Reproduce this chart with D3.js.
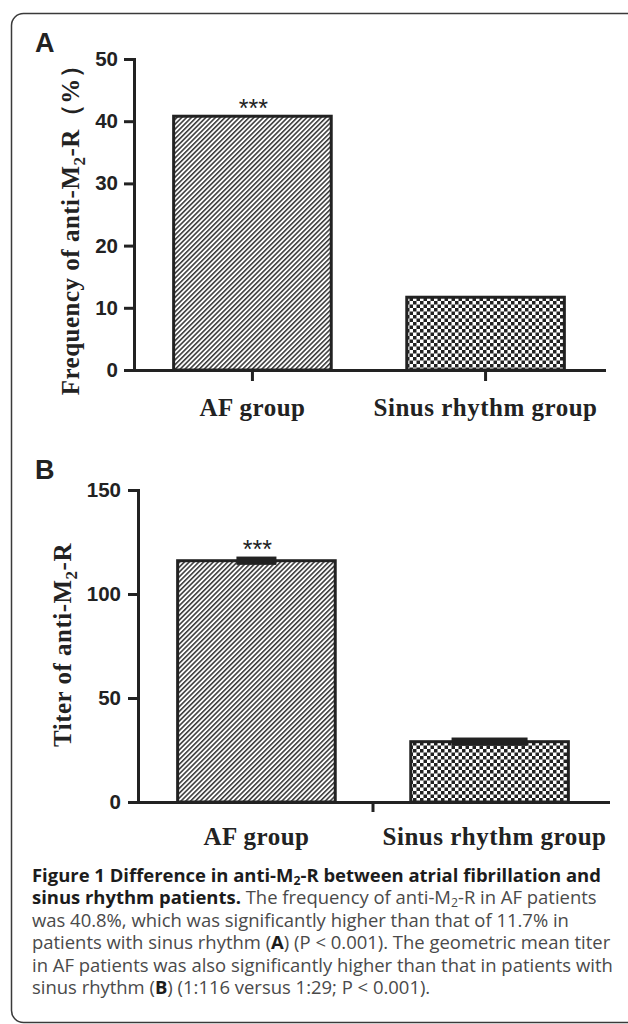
<!DOCTYPE html>
<html>
<head>
<meta charset="utf-8">
<script src="https://cdn.jsdelivr.net/npm/d3@7/dist/d3.min.js"></script>
<style>
  html, body { margin: 0; padding: 0; background: #fff; }
  svg { display: block; }
</style>
</head>
<body>
<script>
const groups = ['AF group', 'Sinus rhythm group'];
const frequency = [40.8, 11.7];
const titerMean = [116, 29];
const titerErr = [2, 2];
const freqTicks = [0, 10, 20, 30, 40, 50];
const titerTicks = [0, 50, 100, 150];
const stars = ['***', ''];

const captionLines = [
  [['b', 'Figure 1 Difference in anti-M'], ['bs', '2'], ['b', '-R between atrial fibrillation and']],
  [['b', 'sinus rhythm patients.'], ['n', ' The frequency of anti-M'], ['ns', '2'], ['n', '-R in AF patients']],
  [['n', 'was 40.8%, which was significantly higher than that of 11.7% in']],
  [['n', 'patients with sinus rhythm ('], ['b', 'A'], ['n', ') (P < 0.001). The geometric mean titer']],
  [['n', 'in AF patients was also significantly higher than that in patients with']],
  [['n', 'sinus rhythm ('], ['b', 'B'], ['n', ') (1:116 versus 1:29; P < 0.001).']]
];

const width = 628;
const height = 1024;
const ink = '#222';
const sans = '"Liberation Sans", Arial, sans-serif';
const serif = '"Liberation Serif", "Times New Roman", serif';

const svg = d3.select('body').append('svg')
  .attr('width', width)
  .attr('height', height);

const defs = svg.append('defs');

const hatch = defs.append('pattern')
  .attr('id', 'hatch')
  .attr('patternUnits', 'userSpaceOnUse')
  .attr('width', 3.4)
  .attr('height', 3.4)
  .attr('patternTransform', 'rotate(45)');
hatch.append('rect').attr('width', 3.4).attr('height', 3.4).attr('fill', '#fff');
hatch.append('line')
  .attr('x1', 0.8).attr('y1', 0).attr('x2', 0.8).attr('y2', 3.4)
  .attr('stroke', ink).attr('stroke-width', 1.4);

const checker = defs.append('pattern')
  .attr('id', 'checker')
  .attr('patternUnits', 'userSpaceOnUse')
  .attr('width', 7)
  .attr('height', 7);
checker.append('rect').attr('width', 7).attr('height', 7).attr('fill', '#fff');
checker.append('rect').attr('width', 3.5).attr('height', 3.5).attr('fill', ink);
checker.append('rect').attr('x', 3.5).attr('y', 3.5).attr('width', 3.5).attr('height', 3.5).attr('fill', ink);

const fills = ['url(#hatch)', 'url(#checker)'];

// outer frame of the figure
svg.append('rect')
  .attr('x', 11.5)
  .attr('y', 13.5)
  .attr('width', 700)
  .attr('height', 1009)
  .attr('rx', 12)
  .attr('fill', 'none')
  .attr('stroke', '#3a3a3a')
  .attr('stroke-width', 1.5);

const drawPanel = opts => {
  const g = svg.append('g');

  const x = d3.scaleBand()
    .domain(groups)
    .range(opts.xRange)
    .paddingInner(0.324)
    .paddingOuter(0.17);

  const y = d3.scaleLinear()
    .domain([0, d3.max(opts.ticks)])
    .range(opts.yRange);

  g.append('text')
    .attr('x', 35)
    .attr('y', opts.letterY)
    .attr('font-family', sans)
    .attr('font-weight', 'bold')
    .attr('font-size', 27)
    .attr('fill', ink)
    .text(opts.letter);

  g.selectAll('rect.bar').data(opts.values)
    .enter().append('rect')
    .attr('class', 'bar')
    .attr('x', (d, i) => x(groups[i]))
    .attr('y', d => y(d))
    .attr('width', x.bandwidth())
    .attr('height', d => y(0) - y(d))
    .attr('fill', (d, i) => fills[i])
    .attr('stroke', ink)
    .attr('stroke-width', 3);

  if (opts.errors) {
    g.selectAll('rect.err').data(opts.values)
      .enter().append('rect')
      .attr('class', 'err')
      .attr('x', (d, i) => x(groups[i]) + x.bandwidth() / 2 - opts.capWidth[i] / 2)
      .attr('y', (d, i) => y(d + opts.errors[i]))
      .attr('width', (d, i) => opts.capWidth[i])
      .attr('height', (d, i) => y(d - opts.errors[i]) - y(d + opts.errors[i]))
      .attr('fill', ink);
  }

  g.selectAll('text.stars').data(opts.values)
    .enter().append('text')
    .attr('class', 'stars')
    .attr('x', (d, i) => x(groups[i]) + x.bandwidth() / 2 + 1)
    .attr('y', (d, i) => y(d + (opts.errors ? opts.errors[i] : 0)) + 1)
    .attr('text-anchor', 'middle')
    .attr('font-family', sans)
    .attr('font-size', 25)
    .attr('fill', ink)
    .text((d, i) => stars[i]);

  const yAxis = d3.axisLeft(y)
    .tickValues(opts.ticks)
    .tickSize(10)
    .tickSizeOuter(0)
    .tickPadding(opts.tickPad);

  const yg = g.append('g')
    .attr('transform', `translate(${opts.xRange[0]}, 0)`)
    .call(yAxis);

  const xAxis = d3.axisBottom(x)
    .tickSize(opts.xTicks ? 11 : 0)
    .tickSizeOuter(0)
    .tickPadding(opts.xTicks ? 17 : 25);

  const xg = g.append('g')
    .attr('transform', `translate(0, ${opts.yRange[0]})`)
    .call(xAxis);

  [yg, xg].forEach(a => {
    a.select('.domain').attr('stroke', ink).attr('stroke-width', 3).attr('stroke-linecap', 'square');
    a.selectAll('.tick line').attr('stroke', ink).attr('stroke-width', 3);
  });

  yg.selectAll('.tick text')
    .attr('font-family', sans)
    .attr('font-weight', 'bold')
    .attr('font-size', 20.5)
    .attr('fill', ink);

  xg.selectAll('.tick text')
    .attr('font-family', serif)
    .attr('font-weight', 'bold')
    .attr('font-size', 25)
    .attr('letter-spacing', 0.5)
    .attr('fill', ink)
    .attr('dx', (d, i) => opts.labelShift[i]);

  if (!opts.xTicks) {
    const mid = (x(groups[0]) + x.bandwidth() + x(groups[1])) / 2;
    g.append('line')
      .attr('x1', mid).attr('x2', mid)
      .attr('y1', opts.yRange[0]).attr('y2', opts.yRange[0] + 10)
      .attr('stroke', ink)
      .attr('stroke-width', 3);
  }

  const label = g.append('text')
    .attr('transform', `translate(${opts.labelX}, ${opts.labelY}) rotate(-90)`)
    .attr('text-anchor', 'middle')
    .attr('font-family', serif)
    .attr('font-weight', 'bold')
    .attr('font-size', 25)
    .attr('letter-spacing', 0.5)
    .attr('fill', ink);
  label.append('tspan').text(opts.label[0]);
  label.append('tspan').attr('dy', 6).attr('font-size', 17).text('2');
  label.append('tspan').attr('dy', -6).text(opts.label[1]);
};

drawPanel({
  letter: 'A',
  letterY: 52,
  values: frequency,
  ticks: freqTicks,
  xRange: [134, 604],
  yRange: [370, 59],
  tickPad: 6,
  xTicks: true,
  labelShift: [0, 0],
  label: ['Frequency of anti-M', '-R（%）'],
  labelX: 79,
  labelY: 224
});

drawPanel({
  letter: 'B',
  letterY: 479,
  values: titerMean,
  errors: titerErr,
  capWidth: [40, 76],
  ticks: titerTicks,
  xRange: [138, 608],
  yRange: [802, 490],
  tickPad: 7,
  xTicks: false,
  labelShift: [0, 5],
  label: ['Titer of anti-M', '-R'],
  labelX: 71,
  labelY: 645
});

// caption, condensed horizontally to the reference line widths
const caption = svg.append('g')
  .attr('font-family', '"Open Sans", sans-serif');

const captionTexts = captionLines.map((segs, li) => {
  const t = caption.append('text')
    .attr('x', 0)
    .attr('y', 882 + li * 22.4)
    .attr('font-size', 18)
    .attr('fill', '#4a4a4a');
  let shifted = false;
  segs.forEach(([kind, str]) => {
    const sp = t.append('tspan').text(str);
    if (kind[0] === 'b') sp.attr('font-weight', 'bold').attr('fill', '#1c1c1c');
    if (kind[1] === 's') {
      sp.attr('font-size', 12).attr('dy', 3);
      shifted = true;
    } else if (shifted) {
      sp.attr('dy', -3);
      shifted = false;
    }
  });
  return t;
});

const ref = captionTexts[4].node().getComputedTextLength();
caption.attr('transform', `translate(32, 0) scale(${581 / ref}, 1)`);
</script>
</body>
</html>
